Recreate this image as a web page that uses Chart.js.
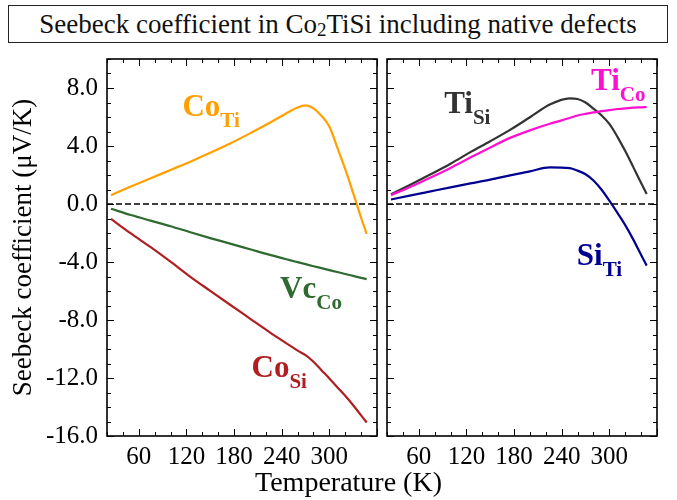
<!DOCTYPE html>
<html>
<head>
<meta charset="utf-8">
<title>Seebeck coefficient in Co2TiSi</title>
<script src="https://cdn.jsdelivr.net/npm/chart.js@4.4.1/dist/chart.umd.min.js"></script>
<style>
    html, body { margin: 0; padding: 0; background: #fff; }
    #wrap { position: relative; width: 677px; height: 500px; overflow: hidden; background: #fff; }
    #title {
        position: absolute; left: 8px; top: 5px; width: 658px; height: 36px;
        border: 1.5px solid #222; box-sizing: content-box;
        font: 27px "Liberation Serif", "DejaVu Serif", Times, serif; line-height: 36px; text-align: center; color: #111;
    }
    #title sub { font-size: 19px; vertical-align: -3px; line-height: 0; }
    .pane { position: absolute; top: 0; height: 500px; }
    #xtitle {
        position: absolute; left: 0; width: 697px; top: 466px; text-align: center;
        font: 28px "Liberation Serif", "DejaVu Serif", Times, serif; color: #000;
    }
</style>
</head>
<body>
<div id="wrap">
    <div id="title">Seebeck coefficient in Co<sub>2</sub>TiSi including native defects</div>
    <div class="pane" style="left:0; width:385px;"><canvas id="chart-left"></canvas></div>
    <div class="pane" style="left:382px; width:295px;"><canvas id="chart-right"></canvas></div>
    <div id="xtitle">Temperature (K)</div>
</div>
<script>
// --- data (T in K, S in uV/K) ---
const temps = [25, 50, 75, 100, 125, 150, 175, 200, 225, 250, 260, 270, 280, 290, 300, 310, 320, 330, 340, 347];

const coTi = [0.61, 1.20, 1.77, 2.35, 2.92, 3.53, 4.17, 4.87, 5.60, 6.38, 6.66, 6.80, 6.60, 6.08, 5.35, 3.90, 2.40, 0.75, -0.95, -2.06];
const vcCo = [-0.33, -0.76, -1.15, -1.53, -1.95, -2.35, -2.73, -3.12, -3.51, -3.87, -4.01, -4.15, -4.29, -4.42, -4.56, -4.69, -4.83, -4.96, -5.09, -5.18];
const coSi = [-1.03, -2.03, -2.98, -3.98, -5.02, -5.99, -6.95, -7.90, -8.85, -9.75, -10.11, -10.42, -10.88, -11.46, -12.03, -12.63, -13.23, -13.88, -14.58, -15.07];

const tiSi = [0.68, 1.35, 2.05, 2.78, 3.58, 4.33, 5.11, 5.98, 6.86, 7.29, 7.24, 7.00, 6.58, 6.12, 5.52, 4.65, 3.65, 2.56, 1.45, 0.69];
const tiCo = [0.61, 1.19, 1.82, 2.49, 3.20, 3.90, 4.56, 5.08, 5.53, 5.93, 6.10, 6.22, 6.32, 6.40, 6.48, 6.55, 6.60, 6.64, 6.67, 6.69];
const siTi = [0.31, 0.59, 0.87, 1.15, 1.42, 1.68, 1.97, 2.25, 2.52, 2.47, 2.30, 2.05, 1.62, 1.00, 0.23, -0.60, -1.46, -2.44, -3.51, -4.25];

const xTicks = [60, 120, 180, 240, 300];
const yTicks = [-16, -12, -8, -4, 0, 4, 8];
const xRange = [20, 360];
const yRange = [-16, 10];

const SERIF = '"Liberation Serif", "DejaVu Serif", Times, serif';
Chart.defaults.font.family = SERIF;
Chart.defaults.color = '#000';

const points = (vals) => temps.map((t, i) => ({ x: t, y: vals[i] }));

function lineSet(vals, color) {
    return {
        data: points(vals),
        borderColor: color,
        borderWidth: 2.2,
        pointRadius: 0,
        fill: false,
        cubicInterpolationMode: 'monotone'
    };
}

function zeroLine() {
    return {
        data: [{ x: xRange[0], y: 0 }, { x: xRange[1], y: 0 }],
        borderColor: '#000',
        borderWidth: 1.3,
        borderDash: [6, 3],
        pointRadius: 0,
        fill: false
    };
}

// frame with inward ticks on all four sides
const framePlugin = {
    id: 'frame',
    afterDatasetsDraw(chart) {
        const { ctx, chartArea: a, scales } = chart;
        const x = scales.x, y = scales.y;
        ctx.save();
        ctx.strokeStyle = '#000';
        ctx.lineWidth = 1;
        ctx.beginPath();
        for (let t = xRange[0]; t <= xRange[1]; t += 20) {
            const px = Math.round(x.getPixelForValue(t)) + 0.5;
            const len = t % 60 === 0 ? 7 : 4;
            ctx.moveTo(px, a.bottom); ctx.lineTo(px, a.bottom - len);
            ctx.moveTo(px, a.top); ctx.lineTo(px, a.top + len);
        }
        for (let v = yRange[0]; v <= yRange[1]; v += 1) {
            const py = Math.round(y.getPixelForValue(v)) + 0.5;
            const len = v % 4 === 0 ? 7 : 4;
            ctx.moveTo(a.left, py); ctx.lineTo(a.left + len, py);
            ctx.moveTo(a.right, py); ctx.lineTo(a.right - len, py);
        }
        ctx.stroke();
        ctx.lineWidth = 1.6;
        ctx.strokeRect(a.left, a.top, a.right - a.left, a.bottom - a.top);
        ctx.restore();
    }
};

// curve names with subscripts, anchored in data units
const labelPlugin = {
    id: 'defectLabels',
    afterDatasetsDraw(chart, args, opts) {
        const { ctx, scales: { x, y } } = chart;
        ctx.save();
        ctx.textBaseline = 'alphabetic';
        ctx.textAlign = 'left';
        (opts.items || []).forEach(it => {
            const px = x.getPixelForValue(it.x);
            const py = y.getPixelForValue(it.y);
            ctx.fillStyle = it.color;
            ctx.font = 'bold 31px ' + SERIF;
            ctx.fillText(it.main, px, py);
            const w = ctx.measureText(it.main).width;
            ctx.font = 'bold 21px ' + SERIF;
            ctx.fillText(it.sub, px + w, py + 11);
        });
        ctx.restore();
    }
};

function xScale() {
    return {
        type: 'linear',
        min: xRange[0],
        max: xRange[1],
        afterBuildTicks: s => { s.ticks = xTicks.map(v => ({ value: v })); },
        afterFit: s => { s.height = 64; },
        grid: { display: false, drawTicks: false },
        border: { display: false },
        ticks: { font: { size: 25 }, padding: 6, maxRotation: 0, autoSkip: false, color: '#000' }
    };
}

function yScale(showLabels) {
    return {
        type: 'linear',
        display: showLabels,
        min: yRange[0],
        max: yRange[1],
        afterBuildTicks: s => { s.ticks = yTicks.map(v => ({ value: v })); },
        afterFit: s => { s.width = showLabels ? 107 : 0; },
        grid: { display: false, drawTicks: false },
        border: { display: false },
        ticks: { font: { size: 25 }, padding: 9, color: '#000', callback: v => v.toFixed(1) },
        title: {
            display: showLabels,
            text: 'Seebeck coefficient (\u03bcV/K)',
            font: { size: 27 },
            color: '#000',
            padding: { top: 8, bottom: 0 }
        }
    };
}

function makeChart(id, datasets, labels, padding, showY) {
    return new Chart(document.getElementById(id), {
        type: 'line',
        data: { datasets: datasets },
        options: {
            responsive: true,
            maintainAspectRatio: false,
            animation: false,
            layout: { padding: padding },
            scales: { x: xScale(), y: yScale(showY) },
            plugins: {
                legend: { display: false },
                tooltip: { enabled: false },
                defectLabels: { items: labels }
            }
        },
        plugins: [framePlugin, labelPlugin]
    });
}

makeChart('chart-left',
    [zeroLine(), lineSet(coTi, '#FFA000'), lineSet(vcCo, '#2F6A30'), lineSet(coSi, '#B01E22')],
    [
        { main: 'Co', sub: 'Ti', x: 115, y: 6.1, color: '#FFA000' },
        { main: 'Vc', sub: 'Co', x: 238, y: -6.45, color: '#2F6A30' },
        { main: 'Co', sub: 'Si', x: 202, y: -11.95, color: '#B01E22' }
    ],
    { left: 0, top: 59, right: 8, bottom: 0 }, true);

makeChart('chart-right',
    [zeroLine(), lineSet(tiCo, '#FF10D0'), lineSet(tiSi, '#333333'), lineSet(siTi, '#000090')],
    [
        { main: 'Ti', sub: 'Si', x: 92, y: 6.25, color: '#333333' },
        { main: 'Ti', sub: 'Co', x: 277, y: 7.85, color: '#FF10D0' },
        { main: 'Si', sub: 'Ti', x: 259, y: -4.2, color: '#000090' }
    ],
    { left: 5, top: 59, right: 20, bottom: 0 }, false);
</script>
</body>
</html>
